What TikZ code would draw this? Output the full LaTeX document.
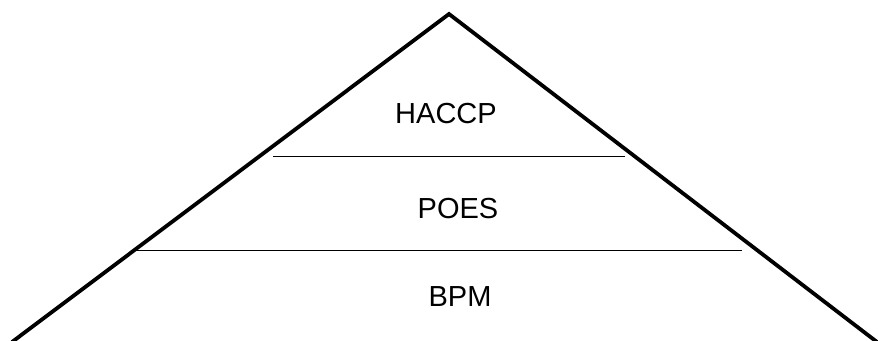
\documentclass[tikz,border=0pt]{standalone}
\usepackage{fontspec}
\setmainfont{Liberation Sans}
\begin{document}
\begin{tikzpicture}[x=1pt,y=-1pt,
  edge/.style={line width=3.8pt,line join=miter},
  tier/.style={line width=1.6pt},
  label/.style={font=\fontsize{29}{32}\selectfont,inner sep=0pt,anchor=base}]
\useasboundingbox (0,0) rectangle (878,340);
% pyramid outline
\coordinate (apex) at (449,14);
\coordinate (bl) at (12,342);
\coordinate (br) at (877,342);
\draw[edge] (bl) -- (apex) -- (br);
% tier dividers
\coordinate (d1l) at (273,156.5);
\coordinate (d1r) at (625,156.5);
\coordinate (d2l) at (133,250.5);
\coordinate (d2r) at (742,250.5);
\draw[tier] (d1l) -- (d1r);
\draw[tier] (d2l) -- (d2r);
% tier labels
\node[label] (haccp) at (446,123) {HACCP};
\node[label] (poes) at (458,218) {POES};
\node[label] (bpm) at (460,306) {BPM};
\end{tikzpicture}
\end{document}
